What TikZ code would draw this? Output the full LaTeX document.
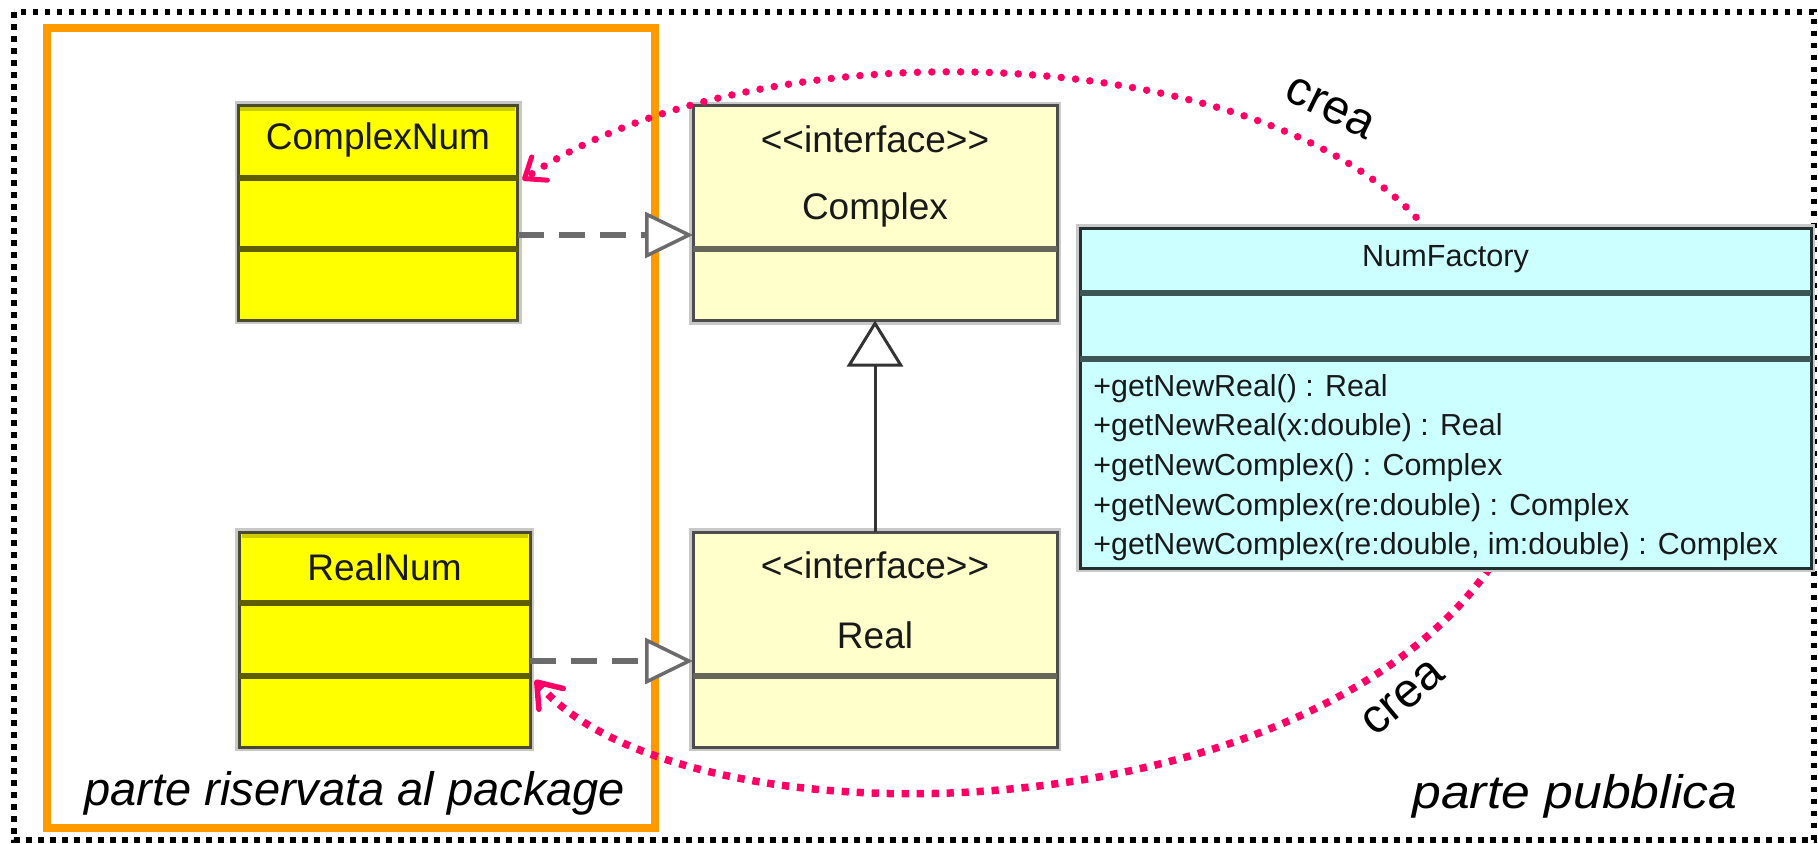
\documentclass[tikz,border=0pt]{standalone}
\usepackage{fontspec}
\setmainfont{Liberation Sans}
\usetikzlibrary{arrows.meta,calc}

\definecolor{orng}{HTML}{FF9900}
\definecolor{creaC}{HTML}{FF0066}
\definecolor{implFill}{HTML}{FFFF00}
\definecolor{implLine}{HTML}{4A4A30}
\definecolor{implSep}{HTML}{5E5E00}
\definecolor{implStrip}{HTML}{CCCC00}
\definecolor{ifcFill}{HTML}{FFFFCC}
\definecolor{ifcLine}{HTML}{4D4D4D}
\definecolor{ifcSep}{HTML}{66665A}
\definecolor{facFill}{HTML}{CCFFFF}
\definecolor{facLine}{HTML}{223030}
\definecolor{facSep}{HTML}{3C5656}
\definecolor{dashGray}{HTML}{6B6B6B}
\definecolor{shadeGray}{HTML}{C8C8C8}

\tikzset{
  box/.style={rectangle, inner sep=0pt, outer sep=0pt, line width=1.5pt,
    preaction={draw=shadeGray, line width=4pt}},
  implbox/.style={box, fill=implFill, draw=implLine},
  ifcbox/.style={box, fill=ifcFill, draw=ifcLine},
  facbox/.style={box, fill=facFill, draw=facLine},
  implsep/.style={draw=implSep, line width=3pt},
  ifcsep/.style={draw=ifcSep, line width=3pt},
  facsep/.style={draw=facSep, line width=3pt},
  title/.style={inner sep=0pt, text=black!90, font=\fontsize{18.5}{22}\selectfont},
  factitle/.style={inner sep=0pt, text=black!90, font=\fontsize{15.3}{18}\selectfont},
  method/.style={anchor=west, inner sep=0pt, text=black!90, font=\fontsize{15.2}{18}\selectfont},
  realize/.style={draw=dashGray, line width=3pt, dash pattern=on 13pt off 7.5pt,
    -{Triangle[length=24pt, width=23pt, fill=white, line width=1.75pt]}},
  inherit/.style={draw=black!80, line width=1.5pt,
    -{Triangle[length=23pt, width=28pt, fill=white, line width=1.5pt]}},
  creaTop/.style={draw=creaC, line width=3.75pt, line cap=round, dash pattern=on 0pt off 7.2pt,
    -{Straight Barb[length=9pt, width=14pt, line width=2.5pt, round]}},
  creaBottom/.style={draw=creaC, line width=3.75pt, dash pattern=on 3.6pt off 3.9pt,
    -{Straight Barb[length=11pt, width=16pt, line width=2.75pt, round]}},
  crealabel/.style={inner sep=0pt, font=\fontsize{24}{28}\selectfont},
  areaLabel/.style={anchor=base west, inner sep=0pt, font=\fontsize{23.5}{28}\selectfont\itshape}
}

\begin{document}
\begin{tikzpicture}[x=0.5pt, y=-0.5pt]
  \useasboundingbox (0,0) rectangle (1818,843);

  % public area frame and package area frame
  \draw[line width=2.75pt, dash pattern=on 2.75pt off 3.25pt] (14,12) rectangle (1814,840);
  \draw[orng, line width=4pt] (46.7,28) rectangle (655,828);

  % implementation classes
  \node[implbox, minimum width=139.5pt, minimum height=107.5pt] (cn) at (378,212.5) {};
  \fill[implStrip] (240,107) rectangle (515,111);
  \draw[implsep] (cn.west |- 0,178) -- (cn.east |- 0,178);
  \draw[implsep] (cn.west |- 0,249) -- (cn.east |- 0,249);
  \node[title] (cnT) at (378,140) {ComplexNum};

  \node[implbox, minimum width=145.5pt, minimum height=107.5pt] (rn) at (384.5,639.5) {};
  \fill[implStrip] (242,534) rectangle (528,538);
  \draw[implsep] (rn.west |- 0,603) -- (rn.east |- 0,603);
  \draw[implsep] (rn.west |- 0,676) -- (rn.east |- 0,676);
  \node[title] (rnT) at (384.5,567) {RealNum};

  % interfaces
  \node[ifcbox, minimum width=182pt, minimum height=107.5pt] (cx) at (875,213) {};
  \draw[ifcsep] (cx.west |- 0,249) -- (cx.east |- 0,249);
  \node[title] (cxS) at (875,139) {<\kern0pt<interface>\kern0pt>};
  \node[title] (cxT) at (875,210) {Complex};

  \node[ifcbox, minimum width=182pt, minimum height=107.5pt] (rl) at (875,639.5) {};
  \draw[ifcsep] (rl.west |- 0,676) -- (rl.east |- 0,676);
  \node[title] (rlS) at (875,565) {<\kern0pt<interface>\kern0pt>};
  \node[title] (rlT) at (875,635) {Real};

  % realization and generalization
  \draw[realize] (cn.east |- 0,235) -- (cx.west |- 0,235);
  \draw[realize] (rn.east |- 0,661) -- (rl.west |- 0,661);
  \draw[inherit] (rl.north) -- (cx.south);

  % factory "crea" links
  \path (cn.east |- 0,180) ++(5,0) coordinate (creaEndA);
  \path (rn.east |- 0,680) ++(5,0) coordinate (creaEndB);
  \path (1445.5,228) ++(-20,0) coordinate (creaStartA);
  \path (1445.5,568) ++(44,0) coordinate (creaStartB);
  \draw[creaTop] (creaStartA) .. controls (1270,40) and (760,20) .. (creaEndA);
  \draw[creaBottom] (creaStartB) .. controls (1300,840) and (680,850) .. (creaEndB);

  % factory class
  \node[facbox, minimum width=365.5pt, minimum height=170pt] (nf) at (1445.5,398) {};
  \draw[facsep] (nf.west |- 0,293) -- (nf.east |- 0,293);
  \draw[facsep] (nf.west |- 0,359) -- (nf.east |- 0,359);
  \node[factitle] (nfT) at (1445.5,259) {NumFactory};
  \node[method] (m1) at (1093,389) {+getNewReal() : Real};
  \node[method] (m2) at (1093,428) {+getNewReal(x:double) : Real};
  \node[method] (m3) at (1093,468) {+getNewComplex() : Complex};
  \node[method] (m4) at (1093,508) {+getNewComplex(re:double) : Complex};
  \node[method] (m5) at (1093,547) {+getNewComplex(re:double, im:double) : Complex};

  % labels
  \node[crealabel, rotate=-26] (creaLblA) at (1330,108) {crea};
  \node[crealabel, rotate=40] (creaLblB) at (1403,698) {crea};
  \node[areaLabel] (pkgLbl) at (84,805) {parte riservata al package};
  \node[areaLabel, xscale=1.1] (pubLbl) at (1412,808) {parte pubblica};
\end{tikzpicture}
\end{document}
